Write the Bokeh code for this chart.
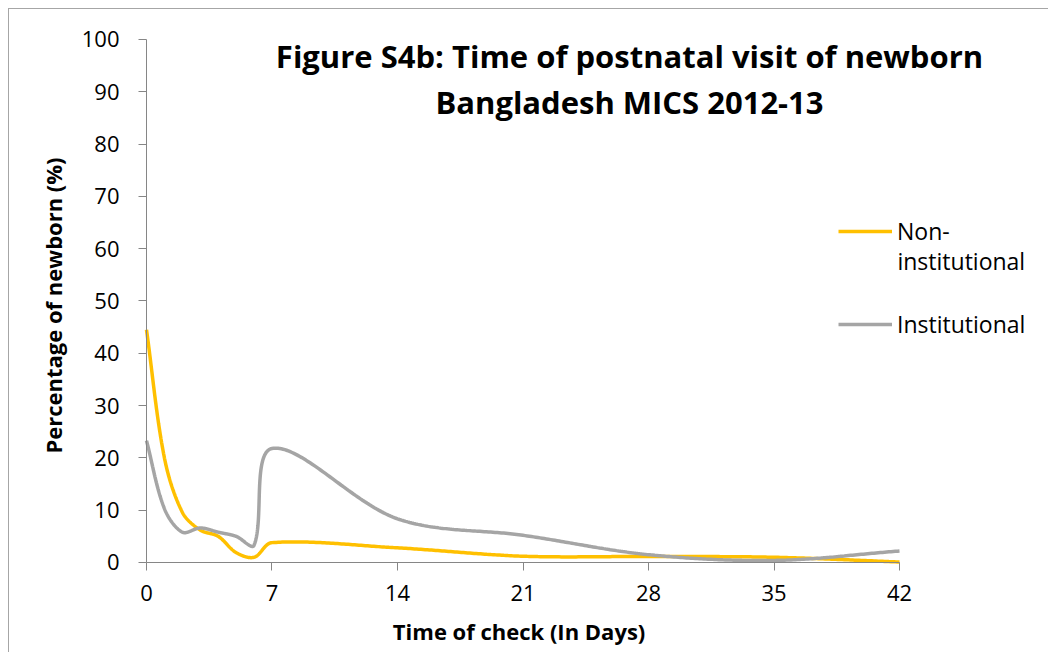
import math
import numpy as np
from bokeh.plotting import figure
from bokeh.models import Range1d, FixedTicker, Label, Legend, LegendItem
from bokeh.embed import file_html
from bokeh.resources import INLINE

days = [0, 1, 2, 3, 4, 5, 6, 7, 14, 21, 28, 35, 42]
non_institutional = [44.5, 20.0, 9.6, 6.2, 5.0, 1.9, 1.0, 3.8, 2.8, 1.2, 1.15, 1.0, 0.1]
institutional = [23.3, 10.3, 5.8, 6.6, 5.8, 5.0, 3.3, 21.8, 8.35, 5.2, 1.5, 0.4, 2.2]
x_ticks = [0, 7, 14, 21, 28, 35, 42]
y_ticks = [0, 10, 20, 30, 40, 50, 60, 70, 80, 90, 100]

FONT = "Open Sans"
PX_X = 17.93   # screen pixels per day (for chord-length weighting of the smoothing)
PX_Y = 5.23    # screen pixels per percentage point


def smooth(xs, ys, n=60):
    """Excel-like smoothed line: cubic Bezier through the points, with
    Catmull-Rom tangents weighted by the on-screen chord lengths."""
    P = np.column_stack([xs, ys]).astype(float)
    S = P * np.array([PX_X, PX_Y])
    m = len(P)

    def d(a, b):
        return float(np.hypot(*(S[b] - S[a])))

    parts = []
    t = np.linspace(0, 1, n)[:, None]
    for i in range(m - 1):
        p0, p3 = P[i], P[i + 1]
        ip, inx = max(i - 1, 0), min(i + 2, m - 1)
        dseg = d(i, i + 1)
        dprev = d(ip, i)
        dnext = d(i + 1, inx)
        w1 = dseg / (dprev + dseg) if (dprev + dseg) > 0 else 0.5
        w2 = dseg / (dseg + dnext) if (dseg + dnext) > 0 else 0.5
        c1 = p0 + (P[i + 1] - P[ip]) * w1 / 3.0
        c2 = p3 - (P[inx] - P[i]) * w2 / 3.0
        seg = (1 - t) ** 3 * p0 + 3 * (1 - t) ** 2 * t * c1 + 3 * (1 - t) * t ** 2 * c2 + t ** 3 * p3
        parts.append(seg if i == 0 else seg[1:])
    s = np.vstack(parts)
    return s[:, 0], s[:, 1]


p = figure(width=1040, height=644, output_backend="svg", toolbar_location=None,
           x_range=Range1d(-7.641, 50.366), y_range=Range1d(-17.400, 105.736),
           min_border_left=0, min_border_right=0, min_border_top=0, min_border_bottom=0)
p.styles = {"border-left": "1px solid #A6A6A6", "border-top": "1px solid #A6A6A6",
            "margin-left": "8px", "margin-top": "8px"}
p.outline_line_color = None
p.xgrid.visible = False
p.ygrid.visible = False
p.background_fill_color = "white"
p.border_fill_color = "white"

for ax in (p.xaxis[0], p.yaxis[0]):
    ax.fixed_location = 0
    ax.axis_line_color = "#868686"
    ax.major_tick_line_color = "#868686"
    ax.major_tick_in = 0
    ax.major_tick_out = 8
    ax.minor_tick_line_color = None
    ax.major_label_text_font = FONT
    ax.major_label_text_font_size = "22px"
    ax.major_label_text_color = "black"

p.xaxis.ticker = FixedTicker(ticks=x_ticks)
p.yaxis.ticker = FixedTicker(ticks=y_ticks)
p.xaxis.bounds = (0, 42)
p.yaxis.bounds = (0, 100)
p.xaxis.major_label_standoff = 15
p.yaxis.major_label_standoff = 19

xs1, ys1 = smooth(days, non_institutional)
xs2, ys2 = smooth(days, institutional)
r1 = p.line(xs1, ys1, line_color="#FFC000", line_width=3.5)
r2 = p.line(xs2, ys2, line_color="#A5A5A5", line_width=3.5)

legend = Legend(items=[LegendItem(label="Non-", renderers=[r1]),
                       LegendItem(label="Institutional", renderers=[r2])],
                location=(829, 313), orientation="vertical",
                border_line_color=None, background_fill_alpha=0,
                padding=0, margin=0, spacing=61,
                glyph_width=54, glyph_height=32, label_height=32,
                label_standoff=5, label_text_font=FONT,
                label_text_font_size="23px", label_text_color="black")
p.add_layout(legend, "center")

p.add_layout(Label(x=41.886, y=57.7, text="institutional", text_font=FONT,
                   text_font_size="23px", text_color="black",
                   text_align="left", text_baseline="alphabetic"))

p.add_layout(Label(x=26.94, y=96.8, text="Figure S4b: Time of postnatal visit of newborn",
                   text_font=FONT, text_font_style="bold", text_font_size="31px",
                   text_color="black", text_align="center", text_baseline="alphabetic"))
p.add_layout(Label(x=26.94, y=88.0, text="Bangladesh MICS 2012-13",
                   text_font=FONT, text_font_style="bold", text_font_size="31px",
                   text_color="black", text_align="center", text_baseline="alphabetic"))

# axis titles
p.add_layout(Label(x=20.78, y=-13.19, text="Time of check (In Days)",
                   text_font=FONT, text_font_style="bold", text_font_size="22px",
                   text_color="black", text_align="center", text_baseline="alphabetic"))
p.add_layout(Label(x=-5.19, y=49.14, text="Percentage of newborn (%)", angle=math.pi / 2,
                   text_font=FONT, text_font_style="bold", text_font_size="22px",
                   text_color="black", text_align="center", text_baseline="middle"))

open("out.html", "w").write(file_html(p, INLINE))
